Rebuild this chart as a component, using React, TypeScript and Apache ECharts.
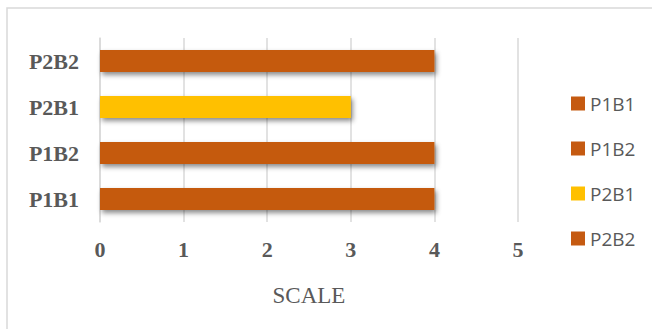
import React, { useEffect, useRef } from "react";
import * as echarts from "echarts";

const categories = ["P1B1", "P1B2", "P2B1", "P2B2"];
const values = [4, 4, 3, 4];
const colors = ["#C55A11", "#C55A11", "#FFC000", "#C55A11"];
const xTicks = [0, 1, 2, 3, 4, 5];

export default function App() {
  const ref = useRef<HTMLDivElement>(null);
  useEffect(() => {
    if (!ref.current) return;
    const chart = echarts.init(ref.current, null, { renderer: "svg" });
    const series = categories.map((name, i) => ({
      name,
      type: "bar",
      stack: "all",
      barWidth: "48%",
      data: categories.map((_, j) => (j === i ? values[i] : "-")),
      itemStyle: {
        color: colors[i],
        shadowColor: "rgba(0,0,0,0.45)",
        shadowBlur: 5,
        shadowOffsetX: 2,
        shadowOffsetY: 3,
      },
    }));
    chart.setOption({
      animation: false,
      backgroundColor: "#ffffff",
      graphic: [
        {
          type: "rect",
          shape: { x: 7, y: 8, width: 700, height: 400 },
          style: { fill: "none", stroke: "#d9d9d9", lineWidth: 1.5 },
          silent: true,
        },
      ],
      grid: { left: 100, right: 134, top: 38, bottom: 107 },
      legend: {
        orient: "vertical",
        left: 566,
        top: 86,
        itemWidth: 14,
        itemHeight: 14,
        itemGap: 20,
        icon: "rect",
        data: categories,
        textStyle: { fontFamily: "Open Sans", fontSize: 19, color: "#595959", lineHeight: 25 },
      },
      xAxis: {
        type: "value",
        min: 0,
        max: 5,
        interval: 1,
        name: "SCALE",
        nameLocation: "middle",
        nameGap: 62,
        nameTextStyle: { fontFamily: "Liberation Serif", fontSize: 23, color: "#595959" },
        axisLine: { show: false },
        axisTick: { show: false },
        axisLabel: {
          margin: 16,
          fontFamily: "Liberation Serif",
          fontWeight: "bold",
          fontSize: 22,
          color: "#595959",
          formatter: (v: number) => (xTicks.includes(v) ? String(v) : ""),
        },
        splitLine: { show: true, lineStyle: { color: "#d9d9d9", width: 1.5 } },
      },
      yAxis: {
        type: "category",
        data: categories,
        axisLine: { show: true, lineStyle: { color: "#d9d9d9", width: 1.5 } },
        axisTick: { show: false },
        axisLabel: {
          margin: 21,
          fontFamily: "Liberation Serif",
          fontWeight: "bold",
          fontSize: 22,
          color: "#595959",
        },
      },
      series,
    });
    return () => chart.dispose();
  }, []);
  return (
    <div
      ref={ref}
      style={{ position: "fixed", left: 0, top: 0, width: 652, height: 329 }}
    />
  );
}
